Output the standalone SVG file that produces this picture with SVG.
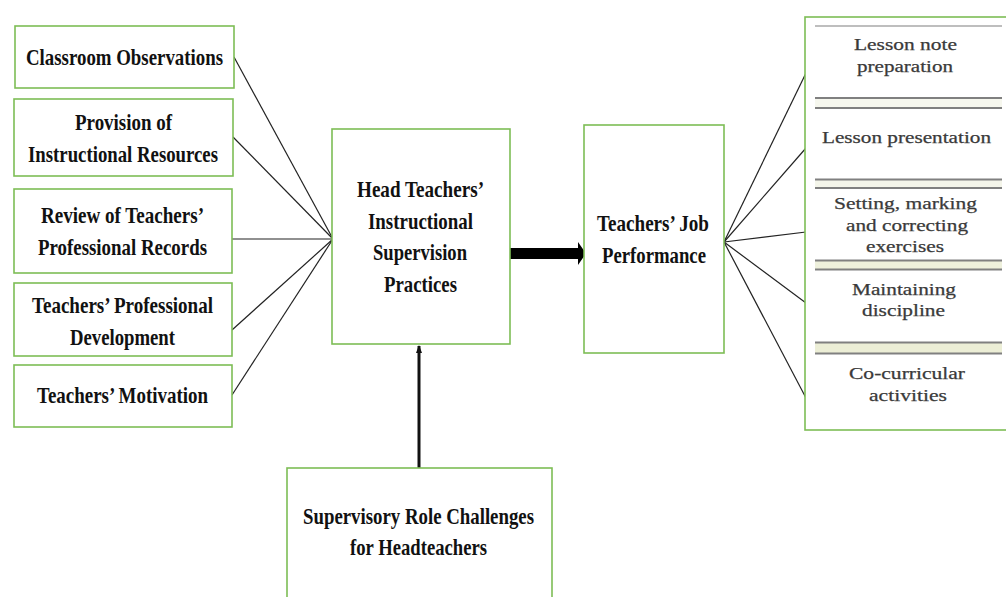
<svg xmlns="http://www.w3.org/2000/svg" width="1006" height="597" viewBox="0 0 1006 597">
<style>
.box{fill:#fff;stroke:#7dbd55;stroke-width:1.6}
.b{font-family:"Liberation Serif","Times New Roman",serif;font-weight:bold;font-size:24px;fill:#111;text-anchor:middle}
.r{font-family:"Liberation Serif","Times New Roman",serif;font-size:16.5px;fill:#3a3a3a;stroke:#3a3a3a;stroke-width:0.25;text-anchor:middle}
.ln{stroke:#222;stroke-width:1.2;fill:none}
.sep{stroke:#808080;stroke-width:2}
</style>
<defs>
<marker id="ah" viewBox="0 0 8 6" refX="7" refY="3" markerWidth="8" markerHeight="6" markerUnits="userSpaceOnUse" orient="auto">
<path d="M0,0 L8,3 L0,6 Z" fill="#111"/>
</marker>
</defs>
<rect width="1006" height="597" fill="#fff"/>

<g id="connectors">
<line class="ln" x1="234" y1="57" x2="333" y2="239"/>
<line class="ln" x1="233" y1="137" x2="333" y2="239"/>
<line class="ln" x1="232" y1="239" x2="333" y2="239"/>
<line class="ln" x1="232" y1="330" x2="333" y2="239"/>
<line class="ln" x1="232" y1="395" x2="333" y2="239"/>
<line class="ln" x1="724" y1="242" x2="806" y2="73"/>
<line class="ln" x1="724" y1="242" x2="806" y2="148"/>
<line class="ln" x1="724" y1="242" x2="806" y2="232"/>
<line class="ln" x1="724" y1="242" x2="806" y2="303"/>
<line class="ln" x1="724" y1="242" x2="806" y2="398"/>
<path d="M508,248 L578,248 L578,242 L586,253.5 L578,265 L578,259 L508,259 Z" fill="#000"/>
<line x1="419" y1="468" x2="419" y2="346" stroke="#111" stroke-width="3" marker-end="url(#ah)"/>
</g>

<g id="n-classroom">
<rect class="box" x="15" y="26" width="219" height="62"/>
<text class="b" x="124.5" y="65" textLength="197" lengthAdjust="spacingAndGlyphs">Classroom Observations</text>
</g>
<g id="n-provision">
<rect class="box" x="14" y="99" width="219" height="77"/>
<text class="b" x="123.5" y="130" textLength="97" lengthAdjust="spacingAndGlyphs">Provision of</text>
<text class="b" x="123" y="162" textLength="190" lengthAdjust="spacingAndGlyphs">Instructional Resources</text>
</g>
<g id="n-review">
<rect class="box" x="14" y="189" width="218" height="84"/>
<text class="b" x="122.5" y="223" textLength="163" lengthAdjust="spacingAndGlyphs">Review of Teachers’</text>
<text class="b" x="122.5" y="255" textLength="169" lengthAdjust="spacingAndGlyphs">Professional Records</text>
</g>
<g id="n-development">
<rect class="box" x="14" y="283" width="218" height="73"/>
<text class="b" x="122.5" y="313" textLength="181" lengthAdjust="spacingAndGlyphs">Teachers’ Professional</text>
<text class="b" x="122.5" y="345" textLength="105" lengthAdjust="spacingAndGlyphs">Development</text>
</g>
<g id="n-motivation">
<rect class="box" x="14" y="365" width="218" height="62"/>
<text class="b" x="122.5" y="403" textLength="171" lengthAdjust="spacingAndGlyphs">Teachers’ Motivation</text>
</g>

<g id="n-practices">
<rect class="box" x="332" y="129" width="178" height="215"/>
<text class="b" x="420.5" y="197" textLength="127" lengthAdjust="spacingAndGlyphs">Head Teachers’</text>
<text class="b" x="420.5" y="229" textLength="105" lengthAdjust="spacingAndGlyphs">Instructional</text>
<text class="b" x="420" y="260" textLength="94" lengthAdjust="spacingAndGlyphs">Supervision</text>
<text class="b" x="420.5" y="292" textLength="73" lengthAdjust="spacingAndGlyphs">Practices</text>
</g>

<g id="n-performance">
<rect class="box" x="584" y="125" width="140" height="228"/>
<text class="b" x="653" y="231" textLength="112" lengthAdjust="spacingAndGlyphs">Teachers’ Job</text>
<text class="b" x="654" y="263" textLength="104" lengthAdjust="spacingAndGlyphs">Performance</text>
</g>

<g id="n-challenges">
<rect class="box" x="287" y="468" width="265" height="135"/>
<text class="b" x="418.5" y="524" textLength="231" lengthAdjust="spacingAndGlyphs">Supervisory Role Challenges</text>
<text class="b" x="418.5" y="555" textLength="137" lengthAdjust="spacingAndGlyphs">for Headteachers</text>
</g>

<g id="n-indicators">
<rect class="box" x="805" y="17" width="205" height="413"/>
<line x1="815" y1="26" x2="1002" y2="26" stroke="#a8a8a8" stroke-width="1.5"/>
<rect x="815" y="99" width="187" height="8" fill="#f6f7ee"/>
<line class="sep" x1="815" y1="98" x2="1002" y2="98"/>
<line class="sep" x1="815" y1="108" x2="1002" y2="108"/>
<rect x="815" y="180" width="187" height="7" fill="#f4f5ea"/>
<line class="sep" x1="815" y1="179.5" x2="1002" y2="179.5"/>
<line class="sep" x1="815" y1="188" x2="1002" y2="188"/>
<rect x="815" y="261" width="187" height="8" fill="#eef0dc"/>
<line class="sep" x1="815" y1="260.5" x2="1002" y2="260.5"/>
<line class="sep" x1="815" y1="269.5" x2="1002" y2="269.5"/>
<rect x="815" y="343" width="187" height="10" fill="#eceed6"/>
<line class="sep" x1="815" y1="342.5" x2="1002" y2="342.5" stroke-width="2.5"/>
<line class="sep" x1="815" y1="353.5" x2="1002" y2="353.5" stroke-width="2.5"/>
<text class="r" x="905.5" y="50" textLength="103" lengthAdjust="spacingAndGlyphs">Lesson note</text>
<text class="r" x="905" y="72" textLength="96" lengthAdjust="spacingAndGlyphs">preparation</text>
<text class="r" x="906.5" y="143" textLength="169" lengthAdjust="spacingAndGlyphs">Lesson presentation</text>
<text class="r" x="905.5" y="209" textLength="143" lengthAdjust="spacingAndGlyphs">Setting, marking</text>
<text class="r" x="907" y="231" textLength="122" lengthAdjust="spacingAndGlyphs">and correcting</text>
<text class="r" x="905" y="252" textLength="78" lengthAdjust="spacingAndGlyphs">exercises</text>
<text class="r" x="904" y="295" textLength="104" lengthAdjust="spacingAndGlyphs">Maintaining</text>
<text class="r" x="903.5" y="316" textLength="83" lengthAdjust="spacingAndGlyphs">discipline</text>
<text class="r" x="907" y="379" textLength="116" lengthAdjust="spacingAndGlyphs">Co-curricular</text>
<text class="r" x="908" y="401" textLength="78" lengthAdjust="spacingAndGlyphs">activities</text>
</g>
</svg>
